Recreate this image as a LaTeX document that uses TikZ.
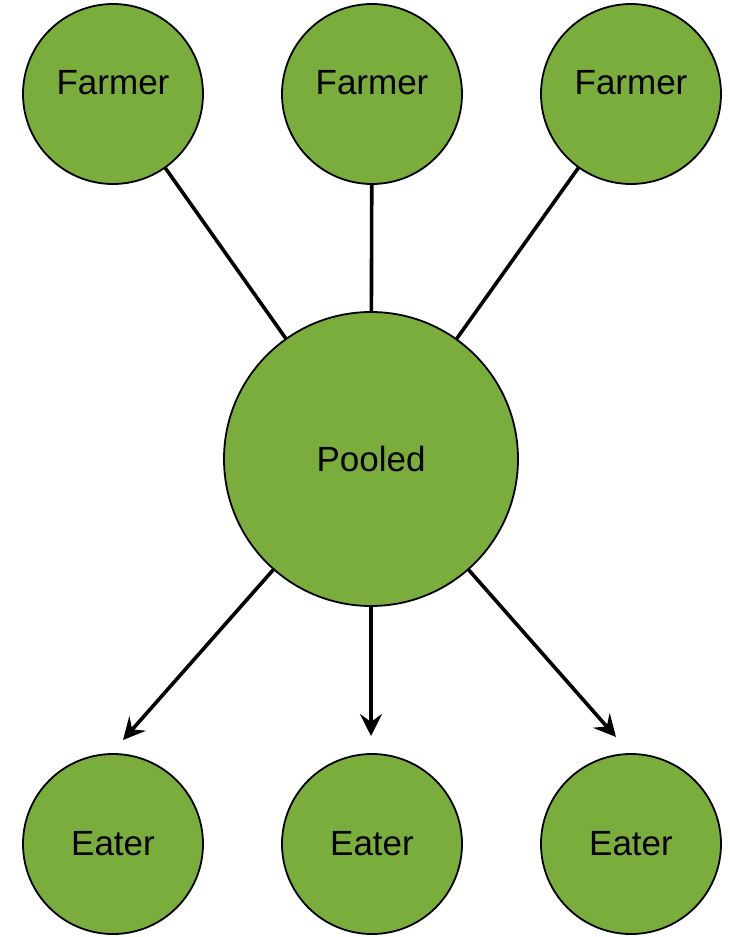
\documentclass[tikz,border=0pt]{standalone}
\usepackage{fontspec}
\setmainfont{Liberation Sans}
\usetikzlibrary{arrows.meta}
\definecolor{leaf}{RGB}{122,173,60}
\begin{document}
\begin{tikzpicture}[x=1pt,y=-1pt,
  party/.style={circle,draw=black,line width=1.8pt,fill=leaf,
    minimum size=180pt,inner sep=0pt,outer sep=0pt},
  hub/.style={party,minimum size=294pt},
  lbl/.style={font=\fontsize{35}{40}\selectfont},
  link/.style={line width=3.6pt,black},
  flow/.style={link,-{Stealth[length=22pt,width=22pt,inset=8pt]}}]
\useasboundingbox (0,0) rectangle (730,937);

% producers along the top
\node[party,label={[lbl,yshift=11pt]center:Farmer}] (f1) at (113,94) {};
\node[party,label={[lbl,yshift=11pt]center:Farmer}] (f2) at (372,94) {};
\node[party,label={[lbl,yshift=11pt]center:Farmer}] (f3) at (631,94) {};

% shared pool in the middle
\node[hub,lbl] (pool) at (371,459) {Pooled};

% consumers along the bottom
\node[party,lbl] (e1) at (113,844) {Eater};
\node[party,lbl] (e2) at (372,844) {Eater};
\node[party,lbl] (e3) at (631,844) {Eater};

% arrow tips stop short of the consumers
\coordinate (t1) at (123,740);
\coordinate (t2) at (371,736);
\coordinate (t3) at (616,737);

\draw[link] (f1) -- (pool);
\draw[link] (f2) -- (pool);
\draw[link] (f3) -- (pool);

\draw[flow] (pool) -- (t1);
\draw[flow] (pool) -- (t2);
\draw[flow] (pool) -- (t3);
\end{tikzpicture}
\end{document}
